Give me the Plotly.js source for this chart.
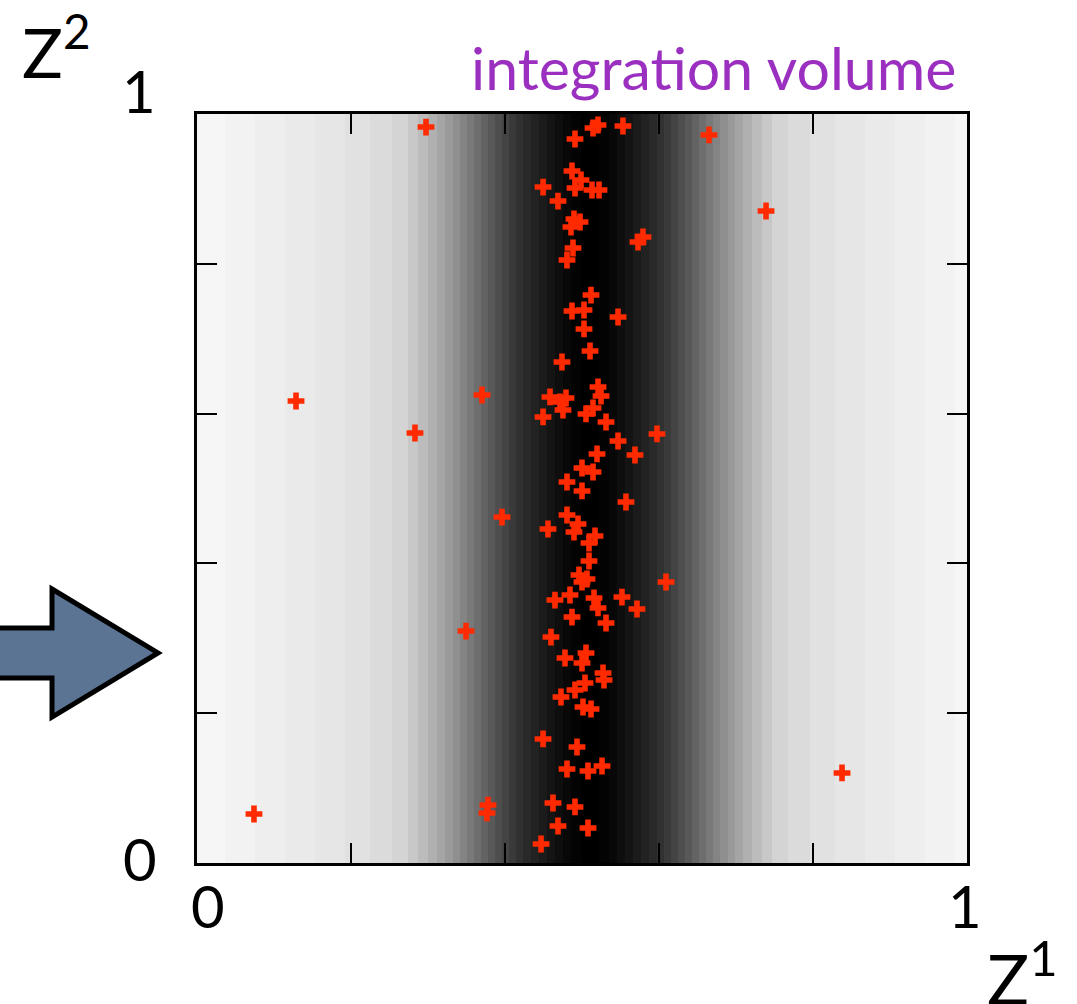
<!DOCTYPE html>
<html>
<head>
<meta charset="utf-8">
<script src="https://cdn.plot.ly/plotly-3.0.1.min.js"></script>
<style>html,body{margin:0;padding:0;background:#fff;}#chart{width:1077px;height:1004px;}</style>
</head>
<body>
<div id="chart"></div>
<script>
// Gray band edges along Z1 (data units) and gray level (0-255) of each band
var bandEdges = [0, 0.0364, 0.0753, 0.1143, 0.1532, 0.1922, 0.2247, 0.2532, 0.2740, 0.2870,
  0.3000, 0.3117, 0.3221, 0.3325, 0.3416, 0.3506, 0.3597, 0.3688, 0.3779, 0.3870,
  0.3961, 0.4052, 0.4143, 0.4234, 0.4338, 0.4442, 0.4545, 0.4649, 0.4753, 0.4857,
  0.4987, 0.5221, 0.5351, 0.5455, 0.5558, 0.5662, 0.5766, 0.5870, 0.5974, 0.6065,
  0.6156, 0.6247, 0.6338, 0.6429, 0.6519, 0.6610, 0.6701, 0.6792, 0.6896, 0.6987,
  0.7091, 0.7208, 0.7338, 0.7468, 0.7675, 0.7961, 0.8286, 0.8675, 0.9065, 0.9455,
  0.9844, 1];
var bandGray = [246, 242, 238, 234, 230, 225, 219, 212, 200, 188,
  176, 165, 154, 143, 132, 121, 110, 99, 88, 78,
  68, 58, 49, 41, 34, 27, 20, 14, 8, 3,
  0,
  3, 8, 14, 20, 27, 34, 41, 49, 58, 68,
  78, 88, 99, 110, 121, 132, 143, 154, 165, 176,
  188, 200, 212, 219, 225, 230, 234, 238, 242, 246];
var bandY = [0, 1];

// Sample points (Z1, Z2)
var ptsX = [0.2974, 0.6649, 0.7390, 0.5143, 0.5208, 0.5532, 0.4909, 0.4870, 0.4987, 0.4909,
  0.5130, 0.5221, 0.4494, 0.4688, 0.4896, 0.4974, 0.4857, 0.5727, 0.5792, 0.4883,
  0.4805, 0.5117, 0.4870, 0.5026, 0.5468, 0.5026, 0.5104, 0.4740,
  0.1286, 0.3701, 0.2831, 0.5208, 0.5247, 0.4584, 0.4714, 0.4792, 0.4753, 0.5052,
  0.5143, 0.4494, 0.5312, 0.5974, 0.5468, 0.5688, 0.5195, 0.5000, 0.5143, 0.4805,
  0.5000, 0.5571, 0.3961, 0.4805, 0.4948, 0.4896, 0.4558, 0.5169, 0.5091, 0.5091,
  0.4961, 0.5065, 0.5000, 0.6091, 0.4649, 0.4844, 0.5156, 0.5208, 0.5519, 0.5714,
  0.4870, 0.5312, 0.3494, 0.4597,
  0.4779, 0.5052, 0.5000, 0.5273, 0.5286, 0.5039, 0.4909, 0.4727, 0.5013, 0.5117,
  0.4494, 0.4935, 0.4805, 0.5078, 0.5260, 0.4623, 0.4909, 0.4688, 0.5078, 0.4468,
  0.8377, 0.0740, 0.3779, 0.3766];
var ptsY = [0.9826, 0.9720, 0.8705, 0.9813, 0.9853, 0.9840, 0.9666, 0.9239, 0.9119, 0.9012,
  0.8985, 0.8985, 0.9025, 0.8838, 0.8598, 0.8558, 0.8491, 0.8291, 0.8358, 0.8211,
  0.8051, 0.7583, 0.7370, 0.7383, 0.7290, 0.7130, 0.6836, 0.6689,
  0.6168, 0.6248, 0.5741, 0.6355, 0.6235, 0.6222, 0.6155, 0.6208, 0.6048, 0.5995,
  0.6075, 0.5955, 0.5888, 0.5728, 0.5634, 0.5447, 0.5461, 0.5274, 0.5220, 0.5087,
  0.4967, 0.4820, 0.4619, 0.4646, 0.4526, 0.4419, 0.4459, 0.4366, 0.4272, 0.4032,
  0.3845, 0.3792, 0.3752, 0.3752, 0.3511, 0.3578, 0.3538, 0.3405, 0.3551, 0.3391,
  0.3284, 0.3204, 0.3097, 0.3017,
  0.2737, 0.2804, 0.2670, 0.2537, 0.2443, 0.2403, 0.2310, 0.2216, 0.2083, 0.2056,
  0.1656, 0.1549, 0.1255, 0.1228, 0.1295, 0.0801, 0.0748, 0.0494, 0.0467, 0.0254,
  0.1202, 0.0654, 0.0774, 0.0668];

var tickVals = [0, 0.2, 0.4, 0.6, 0.8, 1];
var endLabels = ['0', '1'];

var FONT = 'Lato, "Open Sans", sans-serif';

var data = [
  {
    type: 'heatmap',
    x: bandEdges,
    y: bandY,
    z: [bandGray],
    zmin: 0, zmax: 255,
    colorscale: [[0, 'rgb(0,0,0)'], [1, 'rgb(255,255,255)']],
    showscale: false,
    zsmooth: false,
    hoverinfo: 'skip'
  },
  {
    type: 'scatter',
    mode: 'markers',
    x: ptsX,
    y: ptsY,
    marker: {symbol: 'cross', size: 14, color: '#ff2a00', line: {width: 0}},
    hoverinfo: 'x+y'
  }
];

var axisCommon = {
  range: [0, 1],
  showgrid: false,
  zeroline: false,
  showline: true,
  linecolor: '#000',
  linewidth: 3,
  mirror: 'ticks',
  ticks: 'inside',
  ticklen: 20,
  tickwidth: 2,
  tickcolor: '#000',
  tickmode: 'array',
  tickvals: tickVals,
  showticklabels: false,
  fixedrange: true
};

function px2x(px) { return (px - 197) / 770; }
function py2y(py) { return (863 - py) / 749; }

var labelFont = {family: FONT, size: 58, color: '#000'};

var layout = {
  width: 1077,
  height: 1004,
  autosize: false,
  margin: {l: 197, r: 110, t: 114, b: 141, pad: 0},
  paper_bgcolor: '#fff',
  plot_bgcolor: '#fff',
  showlegend: false,
  xaxis: Object.assign({}, axisCommon),
  yaxis: Object.assign({}, axisCommon),
  shapes: [
    {
      type: 'path', xref: 'paper', yref: 'paper',
      path: 'M -0.2688 0.3138 L -0.1883 0.3138 L -0.1883 0.3658 L -0.0506 0.2804 L -0.1883 0.1949 L -0.1883 0.2470 L -0.2688 0.2470 Z',
      fillcolor: '#5b7493',
      line: {color: '#000', width: 5},
      layer: 'above'
    }
  ],
  annotations: [
    // axis end labels
    {text: endLabels[0], xref: 'paper', yref: 'paper', x: px2x(208), y: py2y(905),
      xanchor: 'center', yanchor: 'middle', showarrow: false, font: labelFont},
    {text: endLabels[1], xref: 'paper', yref: 'paper', x: px2x(965), y: py2y(905),
      xanchor: 'center', yanchor: 'middle', showarrow: false, font: labelFont},
    {text: endLabels[0], xref: 'paper', yref: 'paper', x: px2x(140), y: py2y(858),
      xanchor: 'center', yanchor: 'middle', showarrow: false, font: labelFont},
    {text: endLabels[1], xref: 'paper', yref: 'paper', x: px2x(139), y: py2y(90),
      xanchor: 'center', yanchor: 'middle', showarrow: false, font: labelFont},
    {
      text: 'integration volume', xref: 'paper', yref: 'paper',
      x: px2x(958), y: py2y(30), xanchor: 'right', yanchor: 'top',
      showarrow: false, font: {family: FONT, size: 59, color: '#9b30c0'}
    },
    {
      text: 'Z<sup>2</sup>', xref: 'paper', yref: 'paper',
      x: px2x(20), y: py2y(0), xanchor: 'left', yanchor: 'top',
      showarrow: false, font: {family: FONT, size: 68, color: '#000'}
    },
    {
      text: 'Z<sup>1</sup>', xref: 'paper', yref: 'paper',
      x: px2x(985), y: py2y(926), xanchor: 'left', yanchor: 'top',
      showarrow: false, font: {family: FONT, size: 70, color: '#000'}
    }
  ]
};

Plotly.newPlot('chart', data, layout, {staticPlot: true, displayModeBar: false});
</script>
</body>
</html>
